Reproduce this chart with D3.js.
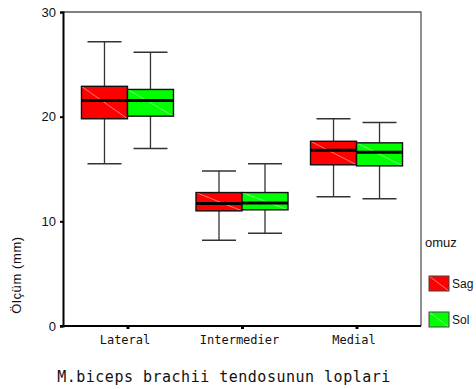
<!DOCTYPE html>
<html>
<head>
<meta charset="utf-8">
<script src="https://cdn.jsdelivr.net/npm/d3@7"></script>
<style>
  body { margin: 0; background: #fff; }
  svg { display: block; }
</style>
</head>
<body>
<svg width="476" height="389"></svg>
<script>
"use strict";

const categories = ['Lateral', 'Intermedier', 'Medial'];
const groups = ['Sag', 'Sol'];
const colors = ['#ff0000', '#00ff00'];
const stripe = ['#ff9a9a', '#9aff9a'];
// [low whisker, Q1, median, Q3, high whisker] per category
const sagStats = [
    [15.5, 19.8, 21.55, 22.9, 27.15],
    [8.2, 11.0, 11.7, 12.75, 14.8],
    [12.35, 15.4, 16.8, 17.65, 19.8]
];
const solStats = [
    [16.95, 20.05, 21.55, 22.6, 26.15],
    [8.85, 11.1, 11.75, 12.75, 15.5],
    [12.15, 15.3, 16.6, 17.5, 19.45]
];
const yTicks = [0, 10, 20, 30];

const svg = d3.select('svg');
const plotLeft = 63, plotRight = 421, plotTop = 12, plotBottom = 326;
const boxWidth = 46;
const capWidth = 34;
const monoFont = '"DejaVu Sans Mono", monospace';
const sansFont = '"Liberation Sans", Arial, sans-serif';

const y = d3.scaleLinear().domain([0, 30]).range([plotBottom, plotTop]);
const x = d3.scalePoint().domain(categories).range([plotLeft, plotRight]).padding(0.563);

// frame (top and right)
svg.append('path')
    .attr('d', `M${plotLeft},${plotTop}H${plotRight}V${plotBottom}`)
    .attr('fill', 'none')
    .attr('stroke', '#555')
    .attr('stroke-width', 1.3);

// boxes
const series = [sagStats, solStats];
series.forEach((stats, si) => {
    const g = svg.append('g');
    categories.forEach((cat, ci) => {
        const [lo, q1, med, q3, hi] = stats[ci];
        const x0 = x(cat) + (si === 0 ? -boxWidth : 0);
        const cx = x0 + boxWidth / 2;
        // whisker stems
        g.append('line')
            .attr('x1', cx).attr('x2', cx)
            .attr('y1', y(hi)).attr('y2', y(q3))
            .attr('stroke', '#333').attr('stroke-width', 1.3);
        g.append('line')
            .attr('x1', cx).attr('x2', cx)
            .attr('y1', y(q1)).attr('y2', y(lo))
            .attr('stroke', '#333').attr('stroke-width', 1.3);
        // caps
        [lo, hi].forEach(v => {
            g.append('line')
                .attr('x1', cx - capWidth / 2).attr('x2', cx + capWidth / 2)
                .attr('y1', y(v)).attr('y2', y(v))
                .attr('stroke', '#333').attr('stroke-width', 1.5);
        });
        // box
        g.append('rect')
            .attr('x', x0).attr('y', y(q3))
            .attr('width', boxWidth).attr('height', y(q1) - y(q3))
            .attr('fill', colors[si]);
        g.append('line')
            .attr('x1', x0).attr('y1', y(q3))
            .attr('x2', x0 + boxWidth).attr('y2', y(q1))
            .attr('stroke', stripe[si]).attr('stroke-width', 0.8);
        g.append('rect')
            .attr('x', x0).attr('y', y(q3))
            .attr('width', boxWidth).attr('height', y(q1) - y(q3))
            .attr('fill', 'none')
            .attr('stroke', '#111').attr('stroke-width', 1.4);
        // median
        g.append('line')
            .attr('x1', x0).attr('x2', x0 + boxWidth)
            .attr('y1', y(med)).attr('y2', y(med))
            .attr('stroke', '#000').attr('stroke-width', 3);
    });
});

// axes
svg.append('g')
    .attr('transform', `translate(${plotLeft},0)`)
    .call(d3.axisLeft(y).tickValues(yTicks).tickSize(3).tickPadding(4))
    .call(g => g.select('.domain').attr('stroke', '#000').attr('stroke-width', 2))
    .call(g => g.selectAll('.tick line').attr('stroke', '#000').attr('stroke-width', 2))
    .call(g => g.selectAll('text')
        .attr('font-family', sansFont).attr('font-size', 13).attr('fill', '#111'));

svg.append('g')
    .attr('transform', `translate(0,${plotBottom})`)
    .call(d3.axisBottom(x).tickSize(3).tickPadding(6))
    .call(g => g.select('.domain').remove())
    .call(g => g.selectAll('.tick line').attr('stroke', '#000').attr('stroke-width', 3))
    .call(g => g.selectAll('text')
        .attr('font-family', monoFont).attr('font-size', 12).attr('fill', '#111')
        .attr('dx', -3));

svg.append('line')
    .attr('x1', plotLeft - 3).attr('x2', plotRight)
    .attr('y1', plotBottom).attr('y2', plotBottom)
    .attr('stroke', '#000').attr('stroke-width', 2);

// axis titles
svg.append('text')
    .attr('x', 224).attr('y', 382)
    .attr('text-anchor', 'middle')
    .attr('font-family', monoFont).attr('font-size', 15).attr('fill', '#111')
    .attr('letter-spacing', 0.5)
    .text('M.biceps brachii tendosunun loplari');

svg.append('text')
    .attr('transform', 'translate(21,275) rotate(-90)')
    .attr('text-anchor', 'middle')
    .attr('font-family', sansFont).attr('font-size', 13).attr('fill', '#111')
    .attr('letter-spacing', 0.6)
    .text('Ölçüm (mm)');

// legend
svg.append('text')
    .attr('x', 425).attr('y', 247)
    .attr('font-family', sansFont).attr('font-size', 13).attr('fill', '#111')
    .text('omuz');

const legend = svg.append('g').attr('transform', 'translate(429,276)');
groups.forEach((name, i) => {
    const item = legend.append('g').attr('transform', `translate(0,${i * 36})`);
    item.append('rect')
        .attr('width', 20).attr('height', 15)
        .attr('fill', colors[i]);
    item.append('line')
        .attr('x1', 0).attr('y1', 0).attr('x2', 20).attr('y2', 15)
        .attr('stroke', stripe[i]).attr('stroke-width', 0.8);
    item.append('rect')
        .attr('width', 20).attr('height', 15)
        .attr('fill', 'none').attr('stroke', '#444').attr('stroke-width', 1);
    item.append('text')
        .attr('x', 23).attr('y', 12)
        .attr('font-family', sansFont).attr('font-size', 12).attr('fill', '#111')
        .text(name);
});
</script>
</body>
</html>
